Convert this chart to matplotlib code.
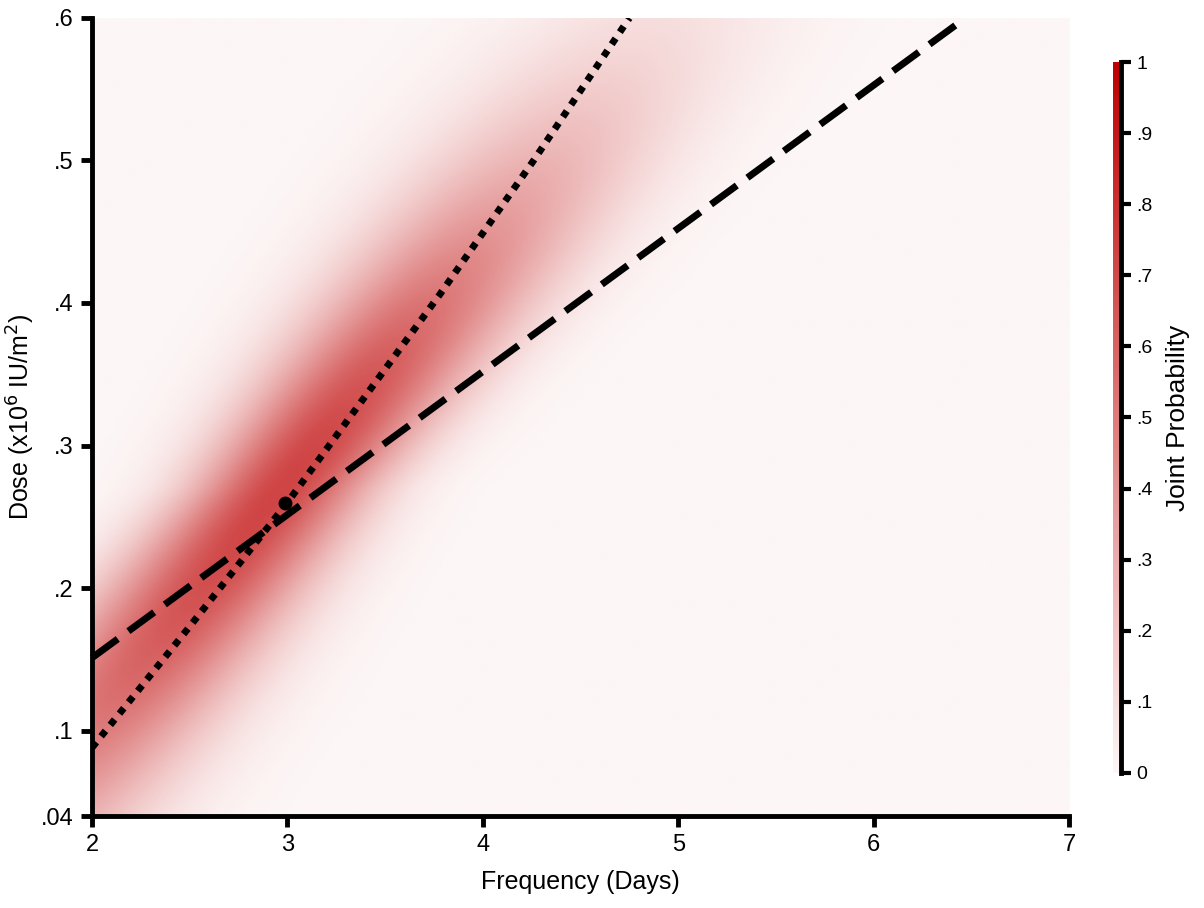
import numpy as np
import matplotlib
matplotlib.use("Agg")
import matplotlib.pyplot as plt
from matplotlib.colors import LinearSegmentedColormap

plt.rcParams['font.family'] = ['Liberation Sans', 'DejaVu Sans']

# axis ranges / ticks
x_range = (2, 7)
y_range = (0.04, 0.6)
x_ticks = [2, 3, 4, 5, 6, 7]
y_ticks = [0.04, 0.1, 0.2, 0.3, 0.4, 0.5, 0.6]
y_tick_labels = ['.04', '.1', '.2', '.3', '.4', '.5', '.6']
cb_ticks = [0, .1, .2, .3, .4, .5, .6, .7, .8, .9, 1]
cb_tick_labels = ['0', '.1', '.2', '.3', '.4', '.5', '.6', '.7', '.8', '.9', '1']

# joint probability surface: peak and ridge
peak_value = 0.72
peak_freq = 2.97
peak_dose = 0.27
ridge_slope = 0.175      # dose per day along the ridge
width_freq = 0.32        # spread across the ridge at the peak (days)
width_growth = 0.5       # extra spread per unit dose away from the peak
spread_dose_low = 0.20   # spread along the ridge below the peak
spread_dose_high = 0.165 # spread along the ridge above the peak

# dashed line (straight)
dashed_freq = [2.0, 6.47]
dashed_dose = [0.151, 0.6]

# dotted curve
dotted_freq = [2.0, 2.5, 3.0, 3.78, 4.26, 4.75]
dotted_dose = [0.088, 0.173, 0.26, 0.406, 0.5, 0.6]

# marked point
point_freq = [2.99]
point_dose = [0.26]


def joint_prob(fx, dy):
    ridge_x = peak_freq + (dy - peak_dose) / ridge_slope
    w = width_freq + width_growth * np.abs(dy - peak_dose)
    across = np.exp(-0.5 * ((fx - ridge_x) / w) ** 2)
    s = np.where(dy < peak_dose, spread_dose_low, spread_dose_high)
    along = np.exp(-0.5 * ((dy - peak_dose) / s) ** 2)
    return peak_value * across * along


cmap = LinearSegmentedColormap.from_list('jp', ['#fdf6f6', '#be0000'], N=256)

fig = plt.figure(figsize=(12.04, 9.08), dpi=100)
ax = fig.add_axes([0.0764, 0.1013, 0.8115, 0.8789])

gx = np.linspace(x_range[0], x_range[1], 500)
gy = np.linspace(y_range[0], y_range[1], 500)
GX, GY = np.meshgrid(gx, gy)
Z = joint_prob(GX, GY)
im = ax.imshow(Z, origin='lower', extent=[x_range[0], x_range[1], y_range[0], y_range[1]],
               aspect='auto', cmap=cmap, vmin=0, vmax=1, interpolation='bilinear')

ax.plot(dashed_freq, dashed_dose, color='black', lw=5, dashes=(4.6, 1.9),
        dash_capstyle='butt', clip_on=False)
ax.plot(dotted_freq, dotted_dose, color='black', lw=5, dashes=(1, 1.1),
        dash_capstyle='butt', clip_on=True)
ax.plot(point_freq, point_dose, 'o', color='black', ms=9)

ax.set_xlim(*x_range)
ax.set_ylim(*y_range)
ax.set_xticks(x_ticks)
ax.set_yticks(y_ticks)
ax.set_yticklabels(y_tick_labels)
for side in ['top', 'right']:
    ax.spines[side].set_visible(False)
for side in ['left', 'bottom']:
    ax.spines[side].set_linewidth(3.5)
ax.tick_params(width=3.5, length=8, labelsize=17, pad=5)
ax.set_xlabel('Frequency (Days)', fontsize=18, labelpad=10)
ax.set_ylabel('Dose (x10$^6$ IU/m$^2$)', fontsize=18, labelpad=3)

cax = fig.add_axes([0.9244, 0.1487, 0.0066, 0.783])
cb = fig.colorbar(im, cax=cax)
cb.outline.set_visible(False)
cb.set_ticks(cb_ticks)
cb.set_ticklabels(cb_tick_labels)
cax.tick_params(width=3, length=7, labelsize=14, pad=4, direction='out')
cax.axvline(1, color='black', lw=3.5, clip_on=False)
cb.set_label('Joint Probability', fontsize=19, labelpad=10)

fig.savefig('out.png', dpi=100)
